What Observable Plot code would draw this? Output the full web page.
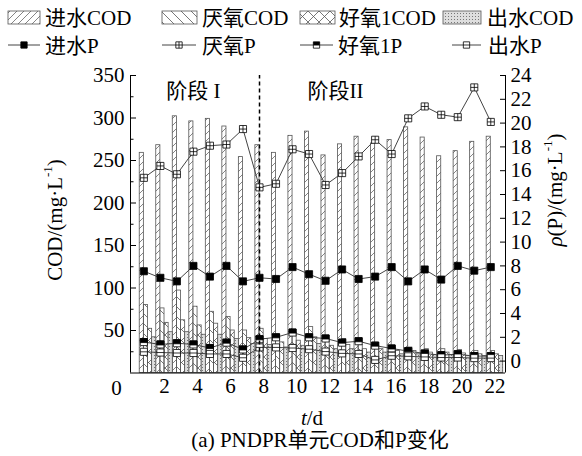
<!DOCTYPE html>
<html><head><meta charset="utf-8">
<script src="https://cdn.jsdelivr.net/npm/d3@7"></script>
<script src="https://cdn.jsdelivr.net/npm/@observablehq/plot@0.6"></script>
<style>
html,body{margin:0;background:#fff;overflow:hidden;}
body{font-family:"Liberation Serif","Noto Sans CJK SC",serif;color:#000;}
#wrap{position:relative;width:582px;height:456px;}
#defs{position:absolute;left:0;top:0;}
#legend{position:absolute;left:0;top:0;}
#chart{position:absolute;left:0;top:60px;}
#caption{position:absolute;left:29px;top:427px;width:582px;text-align:center;font-size:21px;line-height:26px;white-space:nowrap;}
</style></head><body>
<div id="wrap">
<svg id="defs" width="0" height="0">
 <defs>
  <pattern id="pIn" patternUnits="userSpaceOnUse" width="7" height="7">
   <path d="M0,7 L7,0 M-1,1 L1,-1 M6,8 L8,6" stroke="#666" stroke-width="0.8"/>
  </pattern>
  <pattern id="pAna" patternUnits="userSpaceOnUse" width="10" height="10">
   <path d="M0,0 L10,10 M-1,9 L1,11 M9,-1 L11,1" stroke="#555" stroke-width="0.8"/>
  </pattern>
  <pattern id="pAer" patternUnits="userSpaceOnUse" width="11" height="11">
   <path d="M0,0 L11,11 M0,11 L11,0" stroke="#555" stroke-width="0.8"/>
  </pattern>
  <pattern id="pOut" patternUnits="userSpaceOnUse" width="3" height="3">
   <rect width="3" height="3" fill="#dedede"/>
   <rect x="1" y="1" width="1" height="1" fill="#777"/>
  </pattern>
 </defs>
</svg>
<svg id="legend" width="582" height="60"></svg>
<div id="chart"></div>
<div id="caption">(a) PNDPR单元COD和P变化</div>
</div>
<script>
// ---------- data ----------
const days = [1,2,3,4,5,6,7,8,9,10,11,12,13,14,15,16,17,18,19,20,21,22];
const codNames = ["进水COD","厌氧COD","好氧1COD","出水COD"];
const pNames = ["进水P","厌氧P","好氧1P","出水P"];
const codIn  = [259,268,302,296,299,290,254,268,259,279,284,256,269,278,270,274,289,277,255,261,272,278];
const codAna = [80,76,97,78,72,66,50,52,45,47,54,38,40,33,32,30,30,28,28,27,26,26];
const codAer = [52,59,62,56,58,50,41,40,36,38,42,32,33,28,28,26,26,24,24,23,22,22];
const codOut = [42,48,48,45,45,40,34,33,30,32,34,28,28,24,24,22,22,21,21,20,20,20];
const pIn  = [7.55,7.0,6.7,8.0,7.1,8.0,6.7,7.0,6.9,7.9,7.3,6.75,7.7,6.9,7.1,7.9,6.7,7.7,6.85,8.0,7.6,7.9];
const pAna = [15.4,16.4,15.7,17.6,18.1,18.2,19.5,14.6,14.9,17.8,17.4,14.8,15.8,17.2,18.6,17.4,20.4,21.4,20.7,20.5,23.0,20.1];
const pAer = [1.6,1.4,1.5,1.4,1.1,1.55,0.98,1.84,2.0,2.4,2.0,1.9,1.55,1.67,1.3,1.06,0.84,0.64,0.5,0.58,0.42,0.42];
const pOut = [0.78,0.72,0.68,0.68,0.6,0.6,0.28,1.15,1.15,1.1,1.0,0.8,0.65,0.6,0.1,0.45,0.4,0.35,0.3,0.3,0.25,0.25];
const codTicks = [50,100,150,200,250,300,350];
const codMinor = [25,75,125,175,225,275,325];
const pTicks = [0,2,4,6,8,10,12,14,16,18,20,22,24];
const xTicks = [2,4,6,8,10,12,14,16,18,20,22];
const stageDivider = 7.75;
const stages = [{label:"阶段 I", x:3.75}, {label:"阶段II", x:12.35}];

// ---------- helpers ----------
const FONT = '"Liberation Serif","Noto Sans CJK SC",serif';
const P2C = p => (p + 1) * 14;            // right axis (-1..24) onto left axis (0..350)
const patterns = ["url(#pIn)","url(#pAna)","url(#pAer)","url(#pOut)"];
const codSeries = [codIn, codAna, codAer, codOut];
const pSeries = [pIn, pAna, pAer, pOut];

const sqPath = (ctx, h) => { ctx.moveTo(-h,-h); ctx.lineTo(h,-h); ctx.lineTo(h,h); ctx.lineTo(-h,h); ctx.closePath(); };
const symSquare = {draw(ctx, size){ sqPath(ctx, Math.sqrt(size)/2); }};
const symGrid = {draw(ctx, size){ const h=Math.sqrt(size)/2; sqPath(ctx,h); ctx.moveTo(0,-h); ctx.lineTo(0,h); ctx.moveTo(-h,0); ctx.lineTo(h,0); }};
const symTop = {draw(ctx, size){ const h=Math.sqrt(size)/2; ctx.moveTo(-h,-h); ctx.lineTo(h,-h); ctx.lineTo(h,h*0.15); ctx.lineTo(-h,h*0.15); ctx.closePath(); }};
const symMid = {draw(ctx, size){ const h=Math.sqrt(size)/2; sqPath(ctx,h); ctx.moveTo(-h,0); ctx.lineTo(h,0); }};

// ---------- rows ----------
const barRows = codSeries.map((s,k) => days.map((d,i) => ({x1: d - 0.5 + k*0.25, x2: d - 0.25 + k*0.25, v: s[i]})));
const pRows = pSeries.map(s => days.map((d,i) => ({x: d - 0.25, y: P2C(s[i])})));

const xmin = -0.059, xmax = 22.64;
const lineStyle = {stroke:"#444", strokeWidth:1};
const dotBase = {x:"x", y:"y", r:4, stroke:"#000", strokeWidth:0.8};

const chart = Plot.plot({
  width: 582, height: 370,
  marginLeft: 130, marginRight: 77, marginTop: 15, marginBottom: 57.5,
  x: {domain: [xmin, xmax]},
  y: {domain: [0, 350]},
  style: {fontFamily: FONT, fontSize: "21px", color: "#000", background: "#fff", overflow: "visible"},
  marks: [
    ...barRows.map((rows,k) => Plot.rectY(rows, {x1:"x1", x2:"x2", y:"v", fill: patterns[k], stroke:"#555", strokeWidth:0.8})),
    ...pRows.map(rows => Plot.line(rows, {x:"x", y:"y", ...lineStyle})),
    Plot.dot(pRows[0], {...dotBase, symbol: symSquare, fill:"#000"}),
    Plot.dot(pRows[1], {...dotBase, symbol: symGrid, fill:"#fff"}),
    Plot.dot(pRows[2], {...dotBase, symbol: symSquare, fill:"#fff"}),
    Plot.dot(pRows[2], {...dotBase, symbol: symTop, fill:"#000"}),
    Plot.dot(pRows[3], {...dotBase, symbol: symMid, fill:"#fff"}),
    Plot.ruleX([stageDivider], {y1: 0, y2: 350, stroke:"#000", strokeWidth:1.5, strokeDasharray:"4,3"}),
    Plot.text(stages, {x:"x", y: 332, text:"label", fontSize: 21}),
    Plot.ruleX([xmin], {stroke:"#000", strokeWidth:1}),
    Plot.ruleX([xmax], {stroke:"#000", strokeWidth:1}),
    Plot.ruleY([0], {stroke:"#000", strokeWidth:1}),
    Plot.axisY({anchor:"left", ticks: codTicks, tickSize:-6, tickPadding:12, tickFormat: d => String(d)}),
    Plot.axisY({anchor:"left", ticks: codMinor, tickSize:-3.5, text: null}),
    Plot.axisY({anchor:"right", ticks: pTicks.map(P2C), tickSize:-6, tickPadding:11, tickFormat: c => String(Math.round(c/14 - 1))}),
    Plot.axisX({ticks: xTicks, tickSize:0, tickPadding:5, tickFormat: d => String(d)}),
    Plot.text([0], {x: d => d, y: 0, text: d => String(d), dx: -15, dy: 15.5, fontSize: 21})
  ]
});
document.getElementById("chart").appendChild(chart);

// axis titles
const svg = d3.select(chart);
const addTitle = (x, y, rot, parts) => {
  const t = svg.append("text").attr("transform", `translate(${x},${y}) rotate(${rot})`)
    .attr("text-anchor","middle").attr("dominant-baseline","central")
    .style("font-family", FONT).style("font-size","21px").attr("fill","#000");
  parts.forEach(p => {
    const s = t.append("tspan").text(p.t);
    if (p.i) s.style("font-style","italic");
    if (p.sup) s.attr("baseline-shift","super").style("font-size","13px");
  });
};
addTitle(55, 160, -90, [{t:"COD/(mg·L"},{t:"-1",sup:true},{t:")"}]);
addTitle(555, 130, -90, [{t:"ρ",i:true},{t:"(P)/(mg·L"},{t:"-1",sup:true},{t:")"}]);
addTitle(312, 358, 0, [{t:"t",i:true},{t:"/d"}]);

// legend
const lg = d3.select("#legend").style("font-family", FONT);
const codPos = [{sx:8,sw:32,tx:45},{sx:162,sw:35,tx:202},{sx:300,sw:35,tx:339},{sx:443,sw:38,tx:487}];
const pPos = [{lx:8,lw:32,tx:45},{lx:162,lw:34,tx:202},{lx:300,lw:33,tx:338},{lx:452,lw:29,tx:488}];
codNames.forEach((n,k) => {
  const p = codPos[k];
  lg.append("rect").attr("x",p.sx).attr("y",11).attr("width",p.sw).attr("height",13)
    .attr("fill",patterns[k]).attr("stroke","#555").attr("stroke-width",0.8);
  lg.append("text").attr("x",p.tx).attr("y",18).attr("dominant-baseline","central")
    .style("font-size","21px").text(n);
});
const legSyms = [[symSquare,"#000"],[symGrid,"#fff"],[symSquare,"#fff"],[symMid,"#fff"]];
pNames.forEach((n,k) => {
  const p = pPos[k];
  lg.append("line").attr("x1",p.lx).attr("x2",p.lx+p.lw).attr("y1",45).attr("y2",45).attr("stroke","#444");
  const cx = p.lx + p.lw/2, size = 16*Math.PI*0.8;
  lg.append("path").attr("transform",`translate(${cx},45)`).attr("d", d3.symbol(legSyms[k][0], size)())
    .attr("fill",legSyms[k][1]).attr("stroke","#000").attr("stroke-width",0.8);
  if (k === 2) lg.append("path").attr("transform",`translate(${cx},45)`).attr("d", d3.symbol(symTop, size)()).attr("fill","#000");
  lg.append("text").attr("x",p.tx).attr("y",46).attr("dominant-baseline","central")
    .style("font-size","21px").text(n);
});
</script>
</body></html>
